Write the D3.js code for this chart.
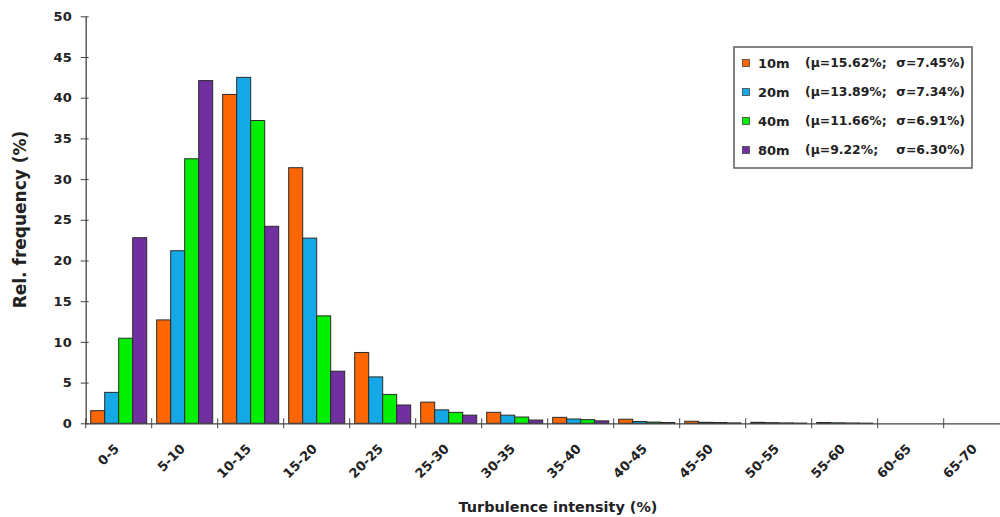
<!DOCTYPE html>
<html>
<head>
<meta charset="utf-8">
<script src="https://cdn.jsdelivr.net/npm/d3@7"></script>
<style>
  html, body { margin: 0; padding: 0; background: #fff; }
  svg { display: block; font-family: "DejaVu Sans", Verdana, sans-serif; font-weight: bold; }
</style>
</head>
<body>
<svg id="chart" width="1000" height="517"></svg>
<script>
// Turbulence-intensity classes (%)
const categories = ["0-5","5-10","10-15","15-20","20-25","25-30","30-35","35-40","40-45","45-50","50-55","55-60","60-65","65-70"];

// Relative frequency (%) per measurement height
const series = ["10m","20m","40m","80m"];
const freq10m = [1.55, 12.7, 40.4, 31.4, 8.7, 2.6, 1.35, 0.73, 0.5, 0.25, 0.12, 0.1, 0, 0];
const freq20m = [3.8, 21.2, 42.5, 22.75, 5.7, 1.65, 1.0, 0.53, 0.22, 0.12, 0.08, 0.06, 0, 0];
const freq40m = [10.45, 32.5, 37.2, 13.2, 3.55, 1.35, 0.77, 0.45, 0.15, 0.1, 0.05, 0.04, 0, 0];
const freq80m = [22.8, 42.1, 24.2, 6.4, 2.25, 1.0, 0.4, 0.3, 0.1, 0.05, 0.03, 0.02, 0, 0];

// Legend statistics
const legendMu = ["(\u03bc=15.62%;", "(\u03bc=13.89%;", "(\u03bc=11.66%;", "(\u03bc=9.22%;"];
const legendSigma = ["\u03c3=7.45%)", "\u03c3=7.34%)", "\u03c3=6.91%)", "\u03c3=6.30%)"];

const yTicks = [0,5,10,15,20,25,30,35,40,45,50];
const colors = ["#ff6600", "#14a9e6", "#00f000", "#7030a0"];

const values = [freq10m, freq20m, freq40m, freq80m];

const svg = d3.select("#chart");
const plotLeft = 85.7, step = 66;
const plotBottom = 423.3, plotTop = 16.3;
const textColor = "#222";

const x = d3.scaleBand().domain(categories).range([plotLeft, plotLeft + step * categories.length]).padding(0);
const xs = d3.scaleBand().domain(series).range([5, step - 5]).padding(0);
const y = d3.scaleLinear().domain([0, 50]).range([plotBottom, plotTop]);

// Bars
const groups = svg.append("g").selectAll("g")
  .data(categories)
  .join("g")
  .attr("transform", d => `translate(${x(d)},0)`);

groups.selectAll("rect")
  .data((c, i) => series.map((s, k) => ({ s, k, v: values[k][i] })).filter(d => d.v > 0))
  .join("rect")
  .attr("x", d => xs(d.s))
  .attr("width", xs.bandwidth())
  .attr("y", d => y(d.v))
  .attr("height", d => plotBottom - y(d.v))
  .attr("fill", d => colors[d.k])
  .attr("stroke", "#2a2a2a")
  .attr("stroke-width", 1);

// Y axis
const yAxis = svg.append("g")
  .attr("transform", `translate(${plotLeft},0)`)
  .call(d3.axisLeft(y).tickValues(yTicks).tickSizeInner(5).tickSizeOuter(0).tickPadding(9));
yAxis.select(".domain").attr("stroke", "#444").attr("stroke-width", 1.3);
yAxis.selectAll(".tick line").attr("x2", -5).attr("x1", 3).attr("stroke", "#444");
yAxis.selectAll(".tick text")
  .attr("font-size", 13).attr("font-weight", "bold").attr("fill", textColor)
  .attr("font-family", "DejaVu Sans, Verdana, sans-serif");

// X axis with ticks at class boundaries
const xAxis = svg.append("g")
  .attr("transform", `translate(0,${plotBottom})`)
  .call(d3.axisBottom(x).tickSizeInner(5).tickSizeOuter(0).tickFormat(""));
xAxis.select(".domain").attr("stroke", "#444").attr("stroke-width", 1.3);
xAxis.selectAll(".tick line")
  .attr("transform", `translate(${-step / 2},0)`)
  .attr("y1", -5).attr("y2", 5).attr("stroke", "#444");

// Rotated class labels
svg.append("g").selectAll("text")
  .data(categories)
  .join("text")
  .attr("transform", d => `translate(${x(d) + step / 2 - 2},${plotBottom + 23}) rotate(-45)`)
  .attr("text-anchor", "end")
  .attr("dy", "0.35em")
  .attr("font-size", 13)
  .attr("fill", textColor)
  .text(d => d);

// Axis titles
svg.append("text")
  .attr("transform", `translate(26,219.5) rotate(-90)`)
  .attr("text-anchor", "middle")
  .attr("font-size", 17).attr("fill", textColor)
  .text("Rel. frequency (%)");

svg.append("text")
  .attr("x", 558).attr("y", 511.5)
  .attr("text-anchor", "middle")
  .attr("font-size", 14.4).attr("fill", textColor)
  .text("Turbulence intensity (%)");

// Legend
const legend = svg.append("g").attr("transform", "translate(734,47)");
legend.append("rect")
  .attr("width", 238).attr("height", 121)
  .attr("fill", "#fff").attr("stroke", "#666").attr("stroke-width", 1.6);
const items = legend.selectAll("g.item")
  .data(series)
  .join("g")
  .attr("class", "item")
  .attr("transform", (d, i) => `translate(0,${16 + i * 29})`);
items.append("rect")
  .attr("x", 8.5).attr("y", -3.5).attr("width", 7).attr("height", 7)
  .attr("fill", (d, i) => colors[i]).attr("stroke", "#444").attr("stroke-width", 0.8);
items.append("text")
  .attr("x", 24).attr("dy", "0.36em")
  .attr("font-size", 13).attr("fill", textColor)
  .text(d => d);
items.append("text")
  .attr("x", 71).attr("dy", "0.36em")
  .attr("font-size", 12.4).attr("fill", textColor)
  .text((d, i) => legendMu[i]);
items.append("text")
  .attr("x", 231).attr("dy", "0.36em")
  .attr("text-anchor", "end")
  .attr("font-size", 12.4).attr("fill", textColor)
  .text((d, i) => legendSigma[i]);
</script>
</body>
</html>
